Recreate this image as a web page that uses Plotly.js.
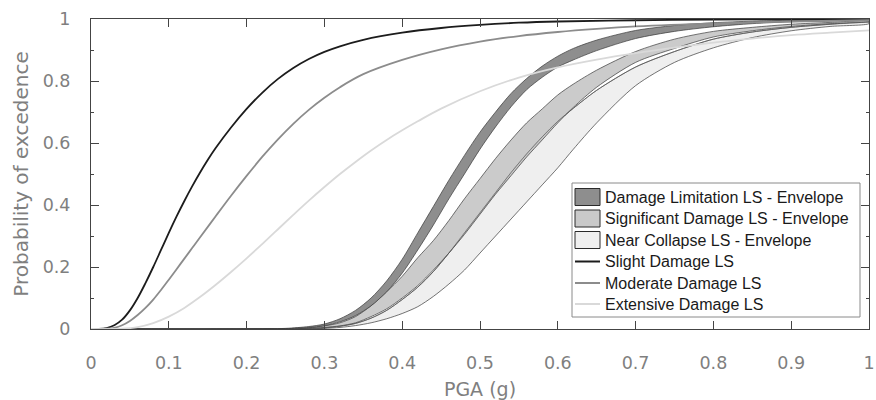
<!DOCTYPE html>
<html>
<head>
<meta charset="utf-8">
<script src="https://cdn.plot.ly/plotly-3.0.1.min.js"></script>
<style>html,body{margin:0;padding:0;background:#fff;}#chart{width:876px;height:400px;}</style>
</head>
<body>
<div id="chart"></div>
<script>
// ---- Data ----
const LINE_NAMES = ["Slight Damage LS", "Moderate Damage LS", "Extensive Damage LS"];
const ENV_NAMES = ["Damage Limitation LS - Envelope", "Significant Damage LS - Envelope", "Near Collapse LS - Envelope"];
const xTickVals = [0, 0.1, 0.2, 0.3, 0.4, 0.5, 0.6, 0.7, 0.8, 0.9, 1];
const xTickText = ["0", "0.1", "0.2", "0.3", "0.4", "0.5", "0.6", "0.7", "0.8", "0.9", "1"];
const yTickVals = [0, 0.2, 0.4, 0.6, 0.8, 1];
const yTickText = ["0", "0.2", "0.4", "0.6", "0.8", "1"];

const slightX = [0, 0.01, 0.02, 0.03, 0.04, 0.05, 0.06, 0.07, 0.08, 0.09, 0.10, 0.11, 0.12, 0.13, 0.14, 0.15, 0.16, 0.18, 0.20, 0.22, 0.24, 0.26, 0.28, 0.30, 0.32, 0.35, 0.40, 0.45, 0.50, 0.55, 0.60, 0.70, 0.80, 0.90, 1.0];
const slightY = [0, 0, 0.003, 0.012, 0.03, 0.06, 0.10, 0.148, 0.20, 0.255, 0.31, 0.363, 0.413, 0.46, 0.504, 0.545, 0.583, 0.65, 0.71, 0.762, 0.806, 0.842, 0.871, 0.894, 0.912, 0.933, 0.956, 0.971, 0.981, 0.988, 0.992, 0.996, 0.998, 0.999, 1.0];

const moderateX = [0, 0.02, 0.03, 0.04, 0.05, 0.06, 0.07, 0.08, 0.09, 0.10, 0.11, 0.12, 0.13, 0.14, 0.16, 0.18, 0.20, 0.22, 0.24, 0.26, 0.28, 0.30, 0.32, 0.35, 0.40, 0.45, 0.50, 0.55, 0.60, 0.65, 0.70, 0.80, 0.90, 1.0];
const moderateY = [0, 0.001, 0.004, 0.012, 0.026, 0.045, 0.068, 0.095, 0.126, 0.159, 0.193, 0.227, 0.261, 0.295, 0.363, 0.43, 0.494, 0.555, 0.611, 0.662, 0.707, 0.746, 0.78, 0.822, 0.868, 0.902, 0.927, 0.945, 0.958, 0.968, 0.976, 0.986, 0.992, 0.996];

const extensiveX = [0, 0.04, 0.06, 0.08, 0.10, 0.12, 0.14, 0.16, 0.18, 0.20, 0.22, 0.24, 0.26, 0.28, 0.30, 0.32, 0.34, 0.36, 0.38, 0.40, 0.42, 0.45, 0.50, 0.55, 0.60, 0.65, 0.70, 0.75, 0.80, 0.85, 0.90, 0.95, 1.0];
const extensiveY = [0, 0.001, 0.006, 0.019, 0.04, 0.068, 0.103, 0.142, 0.184, 0.228, 0.274, 0.321, 0.368, 0.414, 0.458, 0.50, 0.539, 0.576, 0.61, 0.641, 0.67, 0.711, 0.767, 0.811, 0.844, 0.869, 0.89, 0.908, 0.924, 0.937, 0.948, 0.956, 0.963];

const envX = [0, 0.20, 0.25, 0.28, 0.30, 0.32, 0.34, 0.36, 0.38, 0.40, 0.42, 0.44, 0.46, 0.48, 0.50, 0.52, 0.54, 0.56, 0.58, 0.60, 0.62, 0.65, 0.70, 0.75, 0.80, 0.85, 0.90, 0.95, 1.0];
const dlUpper = [0, 0, 0.002, 0.008, 0.016, 0.033, 0.06, 0.10, 0.155, 0.225, 0.31, 0.395, 0.48, 0.56, 0.635, 0.70, 0.76, 0.808, 0.848, 0.88, 0.905, 0.932, 0.963, 0.979, 0.988, 0.993, 0.996, 0.998, 0.999];
const dlLower = [0, 0, 0.001, 0.005, 0.011, 0.023, 0.043, 0.075, 0.12, 0.18, 0.255, 0.335, 0.42, 0.50, 0.58, 0.652, 0.717, 0.772, 0.812, 0.845, 0.868, 0.898, 0.937, 0.96, 0.975, 0.985, 0.991, 0.995, 0.997];
const sdUpper = [0, 0, 0.001, 0.004, 0.010, 0.020, 0.04, 0.075, 0.12, 0.17, 0.23, 0.285, 0.35, 0.42, 0.485, 0.55, 0.61, 0.665, 0.71, 0.755, 0.79, 0.835, 0.895, 0.935, 0.96, 0.973, 0.983, 0.989, 0.994];
const sdLower = [0, 0, 0, 0.002, 0.005, 0.010, 0.02, 0.04, 0.065, 0.10, 0.14, 0.19, 0.245, 0.305, 0.37, 0.435, 0.495, 0.555, 0.61, 0.665, 0.715, 0.78, 0.86, 0.905, 0.942, 0.962, 0.976, 0.985, 0.992];
const ncUpper = [0, 0, 0, 0.002, 0.004, 0.009, 0.018, 0.035, 0.06, 0.095, 0.135, 0.185, 0.245, 0.31, 0.375, 0.44, 0.505, 0.565, 0.62, 0.67, 0.712, 0.77, 0.845, 0.895, 0.935, 0.958, 0.973, 0.983, 0.99];
const ncLower = [0, 0, 0, 0, 0.002, 0.005, 0.011, 0.02, 0.033, 0.05, 0.072, 0.105, 0.145, 0.19, 0.245, 0.30, 0.355, 0.41, 0.465, 0.52, 0.58, 0.665, 0.785, 0.86, 0.907, 0.94, 0.962, 0.976, 0.985];

const xTitle = "PGA (g)";
const yTitle = "Probability of excedence";

// ---- Styles ----
const ENV_FILLS = ["#8e8e8e", "rgba(190,190,190,0.8)", "#efefef"];
const SWATCH_FILLS = ["#8e8e8e", "#c9c9c9", "#efefef"];
const LINE_COLORS = ["#1c1c1c", "#8c8c8c", "#d9d9d9"];

function band(name, up, lo, fill) {
  return {
    type: "scatter", mode: "lines", name: name, showlegend: false,
    x: envX.concat(envX.slice().reverse()),
    y: up.concat(lo.slice().reverse()),
    fill: "toself", fillcolor: fill,
    line: {color: "#3a3a3a", width: 0.7, shape: "spline", smoothing: 0.8},
    hoverinfo: "skip"
  };
}
function edge(y) {
  return {type: "scatter", mode: "lines", x: envX, y: y, showlegend: false,
    line: {color: "#555", width: 0.6, shape: "spline", smoothing: 0.8}, hoverinfo: "skip"};
}
function curve(name, x, y, color) {
  return {type: "scatter", mode: "lines", name: name, x: x, y: y, showlegend: false,
    line: {color: color, width: 1.8, shape: "spline", smoothing: 1}};
}

const traces = [
  band(ENV_NAMES[2], ncUpper, ncLower, ENV_FILLS[2]),
  band(ENV_NAMES[1], sdUpper, sdLower, ENV_FILLS[1]),
  edge(ncUpper),
  band(ENV_NAMES[0], dlUpper, dlLower, ENV_FILLS[0]),
  curve(LINE_NAMES[0], slightX, slightY, LINE_COLORS[0]),
  curve(LINE_NAMES[1], moderateX, moderateY, LINE_COLORS[1]),
  curve(LINE_NAMES[2], extensiveX, extensiveY, LINE_COLORS[2])
];

// ---- Layout geometry (pixels) ----
const M = {l: 91, r: 7, t: 19, b: 71};
const W = 876 - M.l - M.r, H = 400 - M.t - M.b;
const px = v => (v - M.l) / W;
const py = v => (400 - M.b - v) / H;

// custom legend (box, swatches, labels)
const shapes = [];
const annotations = [];
shapes.push({type: "rect", xref: "paper", yref: "paper", x0: px(572), x1: px(860), y0: py(317), y1: py(183),
  line: {color: "#8a8a8a", width: 1}, fillcolor: "#fff", layer: "above"});
const rowY = [197, 218.5, 240, 261.5, 283, 304];
const legendNames = ENV_NAMES.concat(LINE_NAMES);
for (let i = 0; i < 6; i++) {
  if (i < 3) {
    shapes.push({type: "rect", xref: "paper", yref: "paper", x0: px(575), x1: px(600),
      y0: py(rowY[i] + 8.5), y1: py(rowY[i] - 8.5),
      line: {color: "#2a2a2a", width: 1}, fillcolor: SWATCH_FILLS[i], layer: "above"});
  } else {
    shapes.push({type: "line", xref: "paper", yref: "paper", x0: px(575), x1: px(600),
      y0: py(rowY[i]), y1: py(rowY[i]), line: {color: LINE_COLORS[i - 3], width: 2}, layer: "above"});
  }
  annotations.push({xref: "paper", yref: "paper", x: px(603), y: py(rowY[i]), xanchor: "left", yanchor: "middle",
    text: legendNames[i], showarrow: false,
    font: {family: "Liberation Sans, Arial, sans-serif", size: 16, color: "#1a1a1a"}});
}

const tickFont = {family: "DejaVu Sans, sans-serif", size: 17.5, color: "#7f7f7f"};
const axisCommon = {
  showline: true, linecolor: "#444", linewidth: 1, mirror: "ticks",
  ticks: "inside", ticklen: 8, tickcolor: "#444", tickwidth: 1,
  showgrid: false, zeroline: false, tickfont: tickFont, automargin: false,
  ticklabeloverflow: "allow"
};

const layout = {
  width: 876, height: 400,
  margin: M,
  paper_bgcolor: "#fff", plot_bgcolor: "#fff",
  showlegend: false,
  xaxis: Object.assign({}, axisCommon, {
    range: [0, 1], tickmode: "array", tickvals: xTickVals, ticktext: xTickText, ticklabelstandoff: 18,
    title: {text: xTitle, font: {family: "DejaVu Sans, sans-serif", size: 19, color: "#7f7f7f"}, standoff: 15}
  }),
  yaxis: Object.assign({}, axisCommon, {
    range: [0, 1], tickmode: "array", tickvals: yTickVals, ticktext: yTickText, ticklabelstandoff: 16,
    minor: {tickmode: "array", tickvals: [0.1, 0.3, 0.5, 0.7, 0.9], ticks: "inside", ticklen: 3, tickcolor: "#444"},
    title: {text: yTitle, font: {family: "DejaVu Sans, sans-serif", size: 20, color: "#7f7f7f"}, standoff: 8}
  }),
  shapes: shapes,
  annotations: annotations
};

Plotly.newPlot("chart", traces, layout, {displayModeBar: false, staticPlot: true});
</script>
</body>
</html>
